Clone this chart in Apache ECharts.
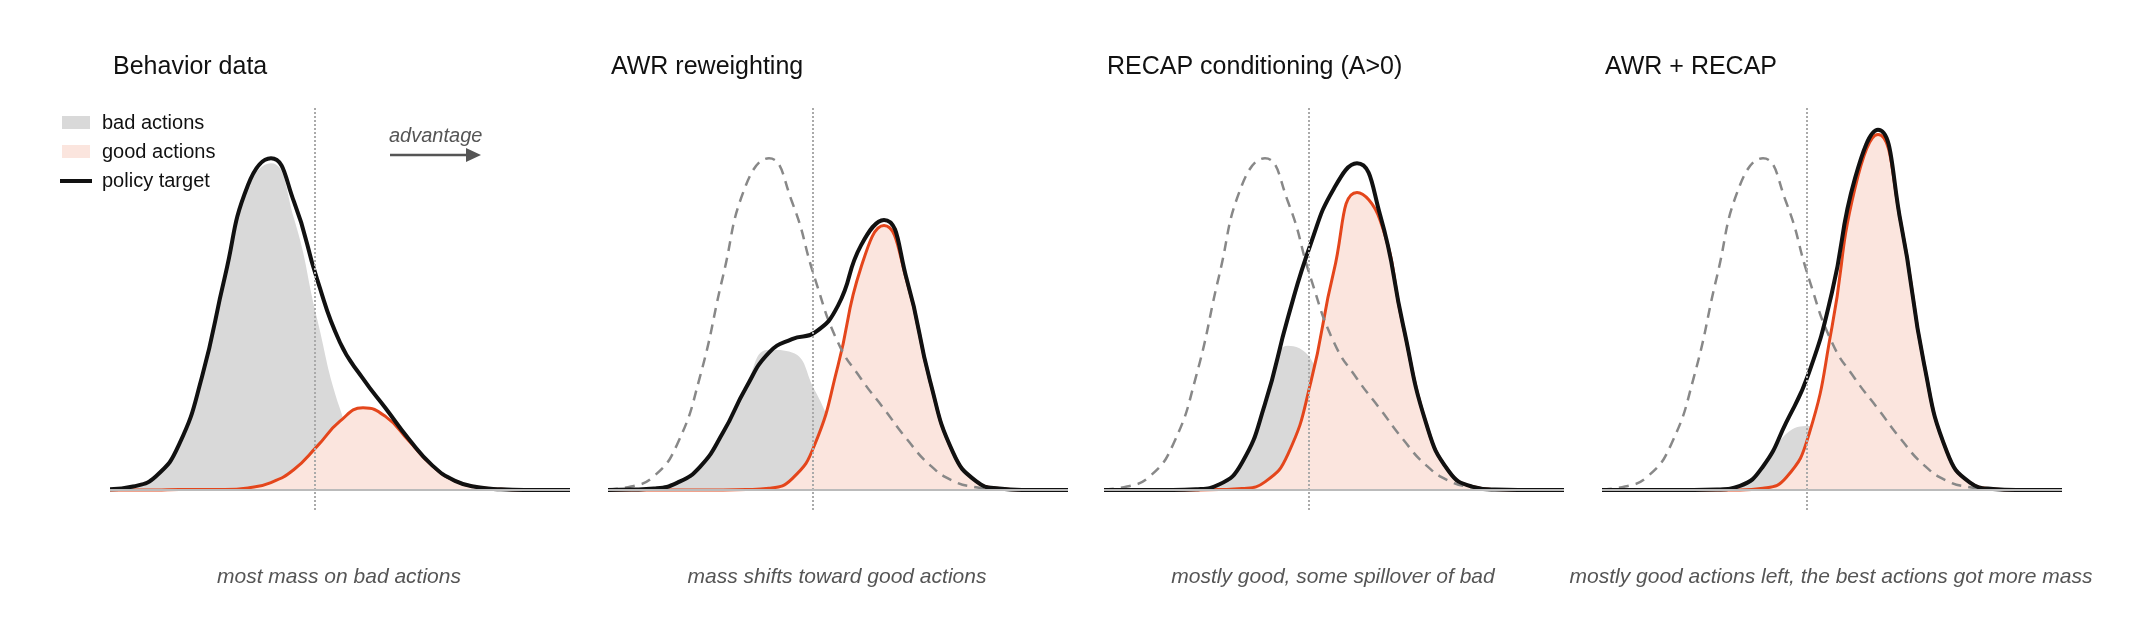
<!DOCTYPE html>
<html>
<head>
<meta charset="utf-8">
<script src="https://cdn.jsdelivr.net/npm/echarts@6/dist/echarts.min.js"></script>
<style>html,body{margin:0;background:#fff}#c{width:2151px;height:641px}</style>
</head>
<body>
<div id="c"></div>
<script>
// advantage axis, shared by all panels
var xs = [0,0.5,1,1.5,2,2.5,3,3.5,4,4.5,5,5.5,6,6.5,7,7.5,8,8.5,9,9.5,10];

// behavior data
var bad1  = [0.002,0.01,0.041,0.135,0.338,0.638,0.905,0.975,0.81,0.512,0.242,0.087,0.024,0.005,0.001,0,0,0,0,0,0];
var good1 = [0,0,0,0.001,0.001,0.001,0.006,0.022,0.061,0.13,0.205,0.245,0.218,0.146,0.073,0.027,0.008,0.002,0,0,0];
var black1= [0.002,0.01,0.041,0.135,0.338,0.638,0.91,0.99,0.86,0.63,0.44,0.332,0.242,0.151,0.074,0.027,0.008,0.002,0,0,0];

// AWR
var bad2  = [0,0.001,0.004,0.021,0.069,0.171,0.312,0.418,0.41,0.296,0.157,0.061,0.017,0.004,0.001,0,0,0,0,0,0];
var good2 = [0,0,0,0,0,0,0.001,0.005,0.033,0.137,0.371,0.664,0.789,0.622,0.325,0.112,0.026,0.004,0,0,0];
var black2= [0,0.001,0.004,0.021,0.069,0.171,0.305,0.41,0.45,0.47,0.55,0.73,0.806,0.626,0.326,0.112,0.026,0.004,0,0,0];

// RECAP
var bad3  = [0,0,0,0,0.002,0.015,0.077,0.24,0.43,0.39,0.2,0.06,0.012,0.002,0,0,0,0,0,0,0];
var good3 = [0,0,0,0,0,0.001,0.004,0.024,0.107,0.324,0.655,0.888,0.806,0.491,0.2,0.055,0.01,0.001,0,0,0];
var black3= [0,0,0,0,0.002,0.016,0.081,0.257,0.515,0.737,0.9,0.975,0.822,0.493,0.2,0.055,0.01,0.001,0,0,0];

// AWR + RECAP
var bad4  = [0,0,0,0,0,0.001,0.01,0.063,0.167,0.191,0.095,0.02,0.002,0,0,0,0,0,0,0,0];
var good4 = [0,0,0,0,0,0,0,0.005,0.036,0.166,0.486,0.901,1.061,0.794,0.377,0.113,0.022,0.003,0,0,0];
var black4= [0,0,0,0,0,0.001,0.012,0.07,0.2,0.35,0.59,0.93,1.075,0.794,0.377,0.113,0.022,0.003,0,0,0];

var titles = ['Behavior data','AWR reweighting','RECAP conditioning (A>0)','AWR + RECAP'];
var notes = ['most mass on bad actions','mass shifts toward good actions','mostly good, some spillover of bad','mostly good actions left, the best actions got more mass'];
var threshold = 4.45;

var bads = [bad1,bad2,bad3,bad4], goods = [good1,good2,good3,good4], blacks = [black1,black2,black3,black4];
var lefts = [110,608,1104,1602], W = 460;

function pts(ys){ return xs.map(function(x,i){ return [x, ys[i]]; }); }

var grids=[], xAxes=[], yAxes=[], series=[], texts=[];
for (var p=0;p<4;p++){
  grids.push({left:lefts[p], width:W, top:108, bottom:131});
  xAxes.push({type:'value', gridIndex:p, min:0, max:10, show:false});
  yAxes.push({type:'value', gridIndex:p, min:-0.06, max:1.14, show:false});
  series.push({type:'line', xAxisIndex:p, yAxisIndex:p, data:pts(bads[p]), smooth:0.5, symbol:'none',
    lineStyle:{width:0}, areaStyle:{color:'#d9d9d9', opacity:1}, z:1,
    markLine:{silent:true, symbol:'none', label:{show:false},
      data:[{xAxis:threshold, lineStyle:{color:'#aaa', type:'dotted', width:2}},
            {yAxis:0, lineStyle:{color:'#bbb', type:'solid', width:2}}]}});
  series.push({type:'line', xAxisIndex:p, yAxisIndex:p, data:pts(goods[p]), smooth:0.5, symbol:'none',
    lineStyle:{width:3, color:'#e4461c'}, areaStyle:{color:'#fbe5de', opacity:1}, z:2});
  if (p>0) series.push({type:'line', xAxisIndex:p, yAxisIndex:p, data:pts(black1), smooth:0.5, symbol:'none',
    lineStyle:{width:2.5, color:'#888', type:[10,7]}, z:3});
  series.push({type:'line', xAxisIndex:p, yAxisIndex:p, data:pts(blacks[p]), smooth:0.5, symbol:'none',
    lineStyle:{width:4, color:'#111'}, z:4});
  texts.push({text:titles[p], left:lefts[p]-2, top:50, textStyle:{fontFamily:'Liberation Sans', fontSize:25, fontWeight:'normal', color:'#111'}});
  texts.push({text:notes[p], left:lefts[p]+W/2-6, textAlign:'center', top:562, textStyle:{fontFamily:'Liberation Sans', fontSize:21, fontStyle:'italic', fontWeight:'normal', color:'#555'}});
}
texts.push({text:'advantage', left:384, top:121, textStyle:{fontFamily:'Liberation Sans', fontSize:20, fontStyle:'italic', fontWeight:'normal', color:'#555'}});

var legendFont = {fontFamily:'Liberation Sans', fontSize:20, fill:'#111'};
var chart = echarts.init(document.getElementById('c'));
chart.setOption({
  animation:false,
  title:texts,
  grid:grids, xAxis:xAxes, yAxis:yAxes, series:series,
  graphic:[
    {type:'rect', shape:{x:62, y:116, width:28, height:13}, style:{fill:'#d9d9d9'}},
    {type:'text', x:102, y:113, style:Object.assign({text:'bad actions'}, legendFont)},
    {type:'rect', shape:{x:62, y:145, width:28, height:13}, style:{fill:'#fbe5de'}},
    {type:'text', x:102, y:142, style:Object.assign({text:'good actions'}, legendFont)},
    {type:'line', shape:{x1:60, y1:181, x2:92, y2:181}, style:{stroke:'#111', lineWidth:4}},
    {type:'text', x:102, y:171, style:Object.assign({text:'policy target'}, legendFont)},
    {type:'line', shape:{x1:390, y1:155, x2:470, y2:155}, style:{stroke:'#555', lineWidth:2.5}},
    {type:'polygon', shape:{points:[[466,148],[481,155],[466,162]]}, style:{fill:'#555'}}
  ]
});
</script>
</body>
</html>
